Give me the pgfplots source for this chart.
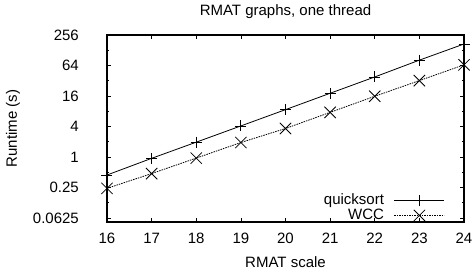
\documentclass[border=0pt]{standalone}
\usepackage{pgfplots}
\pgfplotsset{compat=1.18}
\usepackage{fontspec}
\setmainfont{Liberation Sans}
\begin{document}
\fontsize{15bp}{18bp}\selectfont
\begin{tikzpicture}
\begin{axis}[
  scale only axis, width=357bp, height=187bp,
  clip=false,
  xmin=16, xmax=24,
  ymode=log, log basis y=2, ymin=0.052, ymax=256,
  xtick={16,17,18,19,20,21,22,23,24},
  xticklabels={16,17,18,19,20,21,22,23,24},
  ytick={0.0625,0.25,1,4,16,64,256},
  yticklabels={0.0625,0.25,1,4,16,64,256},
  minor ytick={},
  extra y ticks={0.125,0.5,2,8,32,128},
  extra y tick labels={},
  extra y tick style={major tick length=2.5bp},
  tick align=inside,
  major tick length=4bp,
  tick style={black, line width=0.6bp},
  axis line style={line width=1.2bp},
  xticklabel style={anchor=base, inner sep=0pt, yshift=-21bp},
  yticklabel style={anchor=east, inner sep=0pt, xshift=-28bp},
  every axis title shift=0pt,
  title={RMAT graphs, one thread},
  title style={at={(rel axis cs:0.5,1)}, anchor=base, yshift=19bp, inner sep=0pt},
  xlabel={RMAT scale},
  xlabel style={at={(rel axis cs:0.5,0)}, anchor=base, yshift=-45bp, inner sep=0pt},
  ylabel={Runtime (s)},
  ylabel style={at={(rel axis cs:0,0.5)}, anchor=center, rotate=0, yshift=94bp, inner sep=0pt},
  legend plot pos=right,
  legend cell align=right,
  legend image code/.code={\draw[mark repeat=2,mark phase=2,#1] plot coordinates {(0bp,0bp) (25bp,0bp) (50bp,0bp)};},
  legend style={at={(rel axis cs:1,0)}, anchor=south east, xshift=-19bp, yshift=0bp,
    draw=none, fill=none, inner sep=0pt, column sep=10bp, row sep=2bp,
    nodes={inner sep=0pt}},
]
\addplot[black, line width=0.8bp, mark=+, mark size=5.5bp, mark options={solid}] coordinates {
(16,0.44) (17,0.94) (18,1.96) (19,4.1) (20,8.6) (21,18.1) (22,38) (23,81.6) (24,170)};
\addlegendentry{quicksort}
\addplot[black, line width=0.8bp, dash pattern=on 1.5bp off 1bp, mark=x, mark size=8bp, mark options={solid}] coordinates {
(16,0.24) (17,0.47) (18,0.95) (19,1.93) (20,3.65) (21,7.6) (22,15.8) (23,32.2) (24,66)};
\addlegendentry{WCC}
\coordinate (sw) at (rel axis cs:0,0);
\coordinate (ne) at (rel axis cs:1,1);
\end{axis}
\pgfresetboundingbox
\path (sw) ++(-107bp,-51bp) coordinate (bl);
\path (ne) ++(10bp,35bp) coordinate (tr);
\path (bl) rectangle (tr);
\end{tikzpicture}
\end{document}
